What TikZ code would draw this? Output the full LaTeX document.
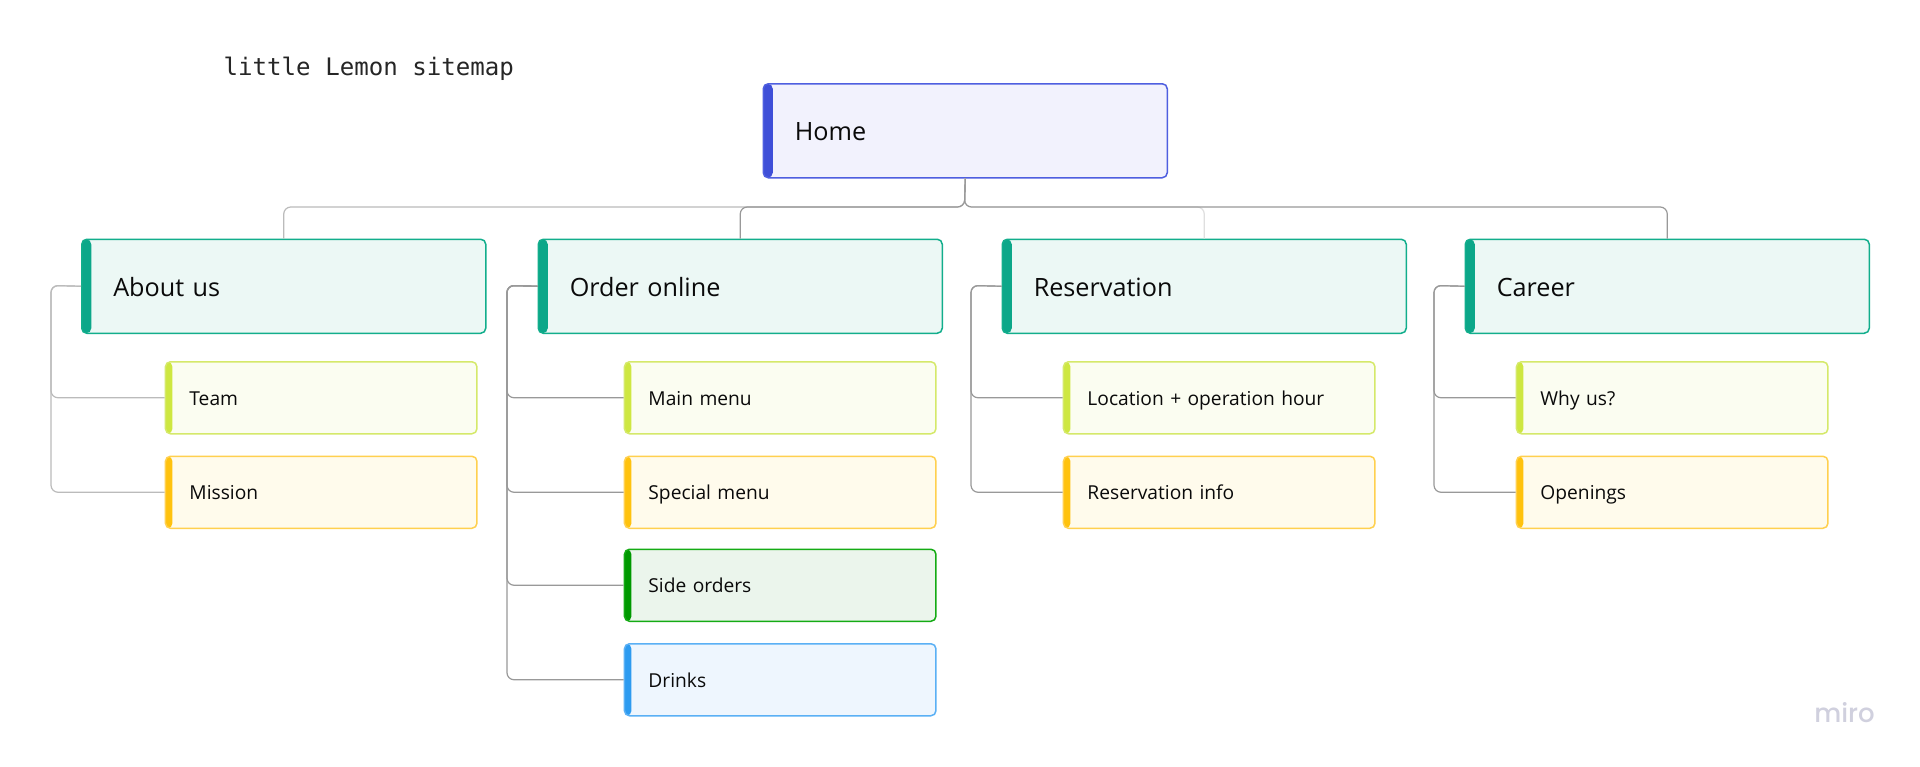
\documentclass[tikz,border=0pt]{standalone}
\usepackage{fontspec}
\setmainfont{Open Sans}
\newfontfamily\titlefont{DejaVu Sans Mono}
\newfontfamily\brandfont{Poppins Medium}
\definecolor{homeline}{HTML}{4F5FE0}\definecolor{homefill}{HTML}{F2F2FD}\definecolor{homebar}{HTML}{3F4FD8}
\definecolor{tealline}{HTML}{12AE8C}\definecolor{tealfill}{HTML}{ECF8F5}\definecolor{tealbar}{HTML}{0CA789}
\definecolor{limeline}{HTML}{D5E96A}\definecolor{limefill}{HTML}{FBFDF1}\definecolor{limebar}{HTML}{CEE741}
\definecolor{amberline}{HTML}{FFD04F}\definecolor{amberfill}{HTML}{FFFBEC}\definecolor{amberbar}{HTML}{FFC20E}
\definecolor{greenline}{HTML}{14AB14}\definecolor{greenfill}{HTML}{EBF5EC}\definecolor{greenbar}{HTML}{009900}
\definecolor{blueline}{HTML}{5AB0F5}\definecolor{bluefill}{HTML}{EEF6FE}\definecolor{bluebar}{HTML}{2D9BF0}
\definecolor{inkcol}{HTML}{0A0A0A}
\definecolor{linedark}{HTML}{999999}\definecolor{linemid}{HTML}{BBBBBB}\definecolor{linepale}{HTML}{DFDFDF}
\definecolor{brandcol}{HTML}{D0D0DE}
\tikzset{
  barred/.style 2 args={path picture={\fill[#2] (path picture bounding box.north west) rectangle ([xshift=#1] path picture bounding box.south west);}},
  cardbase/.style={rectangle, rounded corners=5pt, line width=1.5pt, anchor=north west, align=left, text=inkcol},
  bigcard/.style={cardbase, minimum width=404pt, minimum height=94pt, inner xsep=31.5pt, inner ysep=0pt, text width=341pt, text height=25pt, text depth=5pt, font=\fontsize{25.2}{30}\selectfont},
  smallcard/.style={cardbase, minimum width=311.5pt, minimum height=72pt, inner xsep=24pt, inner ysep=0pt, text width=263.5pt, text height=19pt, text depth=3.8pt, font=\fontsize{19.2}{23}\selectfont},
  hometone/.style={bigcard, draw=homeline, fill=homefill, barred={9.5pt}{homebar}},
  tealtone/.style={bigcard, draw=tealline, fill=tealfill, barred={9.5pt}{tealbar}},
  limetone/.style={smallcard, draw=limeline, fill=limefill, barred={7pt}{limebar}},
  ambertone/.style={smallcard, draw=amberline, fill=amberfill, barred={7pt}{amberbar}},
  greentone/.style={smallcard, draw=greenline, fill=greenfill, barred={7pt}{greenbar}},
  bluetone/.style={smallcard, draw=blueline, fill=bluefill, barred={7pt}{bluebar}},
  conn/.style={line width=1.2pt, rounded corners=7pt},
}
\begin{document}
\begin{tikzpicture}[x=1pt,y=-1pt]
\useasboundingbox[fill=white] (0,0) rectangle (1920,766);
\node[hometone] (home) at (762.5,83) {Home};
\node[tealtone] (about) at (81,238.5) {About us};
\node[tealtone] (order) at (537.5,238.5) {Order online};
\node[tealtone] (reserve) at (1001.5,238.5) {Reservation};
\node[tealtone] (career) at (1464.5,238.5) {Career};
\node[limetone] (team) at (164.7,361) {Team};
\node[ambertone] (mission) at (164.7,455.5) {Mission};
\node[limetone] (mainmenu) at (623.7,361) {Main menu};
\node[ambertone] (special) at (623.7,455.5) {Special menu};
\node[greentone] (side) at (623.7,548.5) {Side orders};
\node[bluetone] (drinks) at (623.7,643) {Drinks};
\node[limetone] (location) at (1062.7,361) {Location + operation hour};
\node[ambertone] (resinfo) at (1062.7,455.5) {Reservation info};
\node[limetone] (whyus) at (1515.7,361) {Why us?};
\node[ambertone] (openings) at (1515.7,455.5) {Openings};
\coordinate (hbus) at (964.5,207);
\coordinate (busa) at (51,285.5);
\coordinate (buso) at (507,285.5);
\coordinate (busr) at (971,285.5);
\coordinate (busc) at (1434,285.5);
\draw[conn,linepale] (home.south) -- (hbus) -| (reserve.north);
\draw[conn,linemid] (home.south) -- (hbus) -| (about.north);
\draw[conn,linedark] (home.south) -- (hbus) -| (order.north);
\draw[conn,linedark] (home.south) -- (hbus) -| (career.north);
\draw[conn,linemid] (about.west) -- (busa) |- (team.west);
\draw[conn,linemid] (about.west) -- (busa) |- (mission.west);
\draw[conn,linedark] (order.west) -- (buso) |- (mainmenu.west);
\draw[conn,linedark] (order.west) -- (buso) |- (special.west);
\draw[conn,linedark] (order.west) -- (buso) |- (side.west);
\draw[conn,linedark] (order.west) -- (buso) |- (drinks.west);
\draw[conn,linedark] (reserve.west) -- (busr) |- (location.west);
\draw[conn,linedark] (reserve.west) -- (busr) |- (resinfo.west);
\draw[conn,linedark] (career.west) -- (busc) |- (whyus.west);
\draw[conn,linedark] (career.west) -- (busc) |- (openings.west);
\node[anchor=base west, inner sep=0pt, text=black!85, font=\titlefont\fontsize{24.1}{28}\selectfont] (title) at (223.5,75) {little Lemon sitemap};
\node[anchor=base east, inner sep=0pt, text=brandcol, font=\brandfont\fontsize{26}{30}\selectfont] (brand) at (1875,722) {miro};
\end{tikzpicture}
\end{document}
